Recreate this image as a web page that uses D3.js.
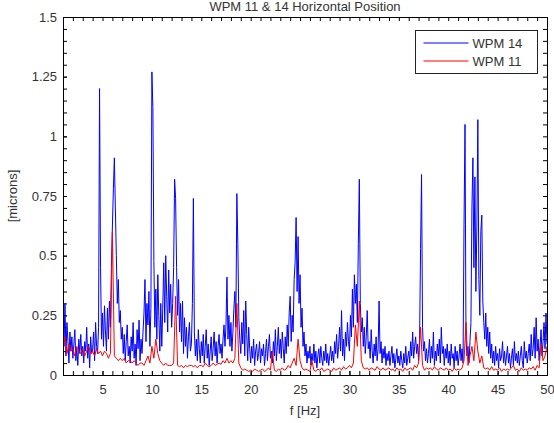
<!DOCTYPE html>
<html>
<head>
<meta charset="utf-8">
<script src="https://cdn.jsdelivr.net/npm/d3@7"></script>
<style>
	html, body { margin: 0; padding: 0; background: #fff; }
	svg { display: block; font-family: 'Liberation Sans', Arial, sans-serif; }
</style>
</head>
<body>
<div class="wpm__graph"></div>
<script>
/* spectrum bins: f = fStart + i * step */
const fStart = 1;
const step14 = 0.1;
const step11 = 0.2;

const wpm14 = [
	0.37, 0.12, 0.30, 0.08, 0.22, 0.14, 0.05, 0.18, 0.10, 0.16,
	0.07, 0.13, 0.19, 0.06, 0.11, 0.04, 0.15, 0.09, 0.17, 0.08,
	0.12, 0.05, 0.14, 0.10, 0.20, 0.07, 0.13, 0.03, 0.16, 0.09,
	0.11, 0.18, 0.06, 0.22, 0.12, 0.09, 0.20, 1.20, 0.45, 0.15,
	0.26, 0.12, 0.29, 0.18, 0.10, 0.28, 0.15, 0.31, 0.20, 0.45,
	0.62, 0.78, 0.91, 0.70, 0.50, 0.30, 0.40, 0.22, 0.27, 0.15,
	0.20, 0.09, 0.17, 0.06, 0.14, 0.21, 0.08, 0.12, 0.05, 0.16,
	0.10, 0.22, 0.07, 0.13, 0.04, 0.19, 0.11, 0.23, 0.06, 0.15,
	0.09, 0.18, 0.26, 0.40, 0.14, 0.30, 0.21, 0.35, 0.12, 0.28,
	1.27, 1.12, 0.48, 0.20, 0.36, 0.15, 0.42, 0.25, 0.10, 0.30,
	0.12, 0.28, 0.47, 0.22, 0.50, 0.33, 0.18, 0.44, 0.26, 0.38,
	0.20, 0.30, 0.45, 0.82, 0.74, 0.45, 0.25, 0.40, 0.18, 0.30,
	0.14, 0.31, 0.09, 0.24, 0.12, 0.20, 0.07, 0.16, 0.22, 0.10,
	0.13, 0.30, 0.74, 0.18, 0.08, 0.15, 0.06, 0.19, 0.11, 0.05,
	0.14, 0.08, 0.17, 0.05, 0.12, 0.19, 0.07, 0.13, 0.04, 0.10,
	0.16, 0.06, 0.11, 0.18, 0.08, 0.14, 0.05, 0.12, 0.17, 0.09,
	0.13, 0.07, 0.15, 0.21, 0.12, 0.21, 0.41, 0.15, 0.25, 0.12,
	0.22, 0.10, 0.18, 0.28, 0.35, 0.20, 0.76, 0.55, 0.24, 0.15,
	0.09, 0.22, 0.13, 0.27, 0.08, 0.31, 0.17, 0.06, 0.20, 0.11,
	0.05, 0.12, 0.07, 0.15, 0.04, 0.10, 0.13, 0.06, 0.09, 0.14,
	0.05, 0.11, 0.08, 0.13, 0.04, 0.09, 0.15, 0.06, 0.12, 0.17,
	0.07, 0.10, 0.05, 0.14, 0.08, 0.19, 0.06, 0.12, 0.20, 0.09,
	0.15, 0.07, 0.18, 0.11, 0.05, 0.16, 0.09, 0.21, 0.12, 0.26,
	0.33, 0.14, 0.25, 0.18, 0.40, 0.47, 0.66, 0.35, 0.58, 0.30,
	0.42, 0.20, 0.28, 0.12, 0.18, 0.08, 0.13, 0.05, 0.10, 0.07,
	0.12, 0.04, 0.09, 0.06, 0.13, 0.05, 0.10, 0.03, 0.08, 0.11,
	0.05, 0.12, 0.07, 0.04, 0.10, 0.06, 0.13, 0.05, 0.09, 0.04,
	0.08, 0.12, 0.06, 0.10, 0.05, 0.14, 0.09, 0.17, 0.07, 0.12,
	0.20, 0.10, 0.27, 0.08, 0.15, 0.06, 0.18, 0.12, 0.22, 0.14,
	0.10, 0.25, 0.16, 0.36, 0.20, 0.42, 0.30, 0.38, 0.22, 0.55,
	0.82, 0.30, 0.18, 0.24, 0.12, 0.20, 0.09, 0.16, 0.27, 0.11,
	0.14, 0.07, 0.19, 0.10, 0.05, 0.13, 0.08, 0.16, 0.06, 0.11,
	0.31, 0.09, 0.14, 0.05, 0.11, 0.07, 0.12, 0.04, 0.09, 0.06,
	0.10, 0.04, 0.08, 0.12, 0.05, 0.09, 0.03, 0.07, 0.11, 0.05,
	0.08, 0.04, 0.10, 0.06, 0.03, 0.09, 0.05, 0.12, 0.04, 0.07,
	0.10, 0.05, 0.14, 0.08, 0.18, 0.07, 0.12, 0.16, 0.09, 0.13,
	0.06, 0.15, 0.53, 0.84, 0.20, 0.10, 0.14, 0.06, 0.11, 0.05,
	0.09, 0.15, 0.05, 0.12, 0.07, 0.18, 0.04, 0.10, 0.06, 0.13,
	0.08, 0.15, 0.05, 0.20, 0.09, 0.12, 0.04, 0.11, 0.07, 0.13,
	0.05, 0.10, 0.04, 0.13, 0.07, 0.09, 0.03, 0.12, 0.06, 0.10,
	0.04, 0.08, 0.13, 0.06, 0.11, 0.05, 0.63, 1.05, 0.15, 0.08,
	0.12, 0.05, 0.14, 0.22, 0.70, 0.91, 0.45, 0.83, 0.35, 0.62,
	1.07, 0.40, 0.25, 0.60, 0.67, 0.31, 0.22, 0.15, 0.26, 0.12,
	0.20, 0.09, 0.18, 0.07, 0.13, 0.05, 0.10, 0.04, 0.12, 0.06,
	0.09, 0.03, 0.11, 0.06, 0.08, 0.14, 0.05, 0.10, 0.04, 0.08,
	0.12, 0.05, 0.09, 0.03, 0.07, 0.11, 0.04, 0.14, 0.06, 0.09,
	0.05, 0.10, 0.04, 0.08, 0.12, 0.06, 0.03, 0.14, 0.07, 0.10,
	0.05, 0.09, 0.13, 0.06, 0.17, 0.08, 0.11, 0.20, 0.07, 0.24,
	0.10, 0.15, 0.06, 0.12, 0.19, 0.08, 0.14, 0.22, 0.11, 0.26,
	0.13
];

const wpm11 = [
	0.12, 0.16, 0.09, 0.13, 0.10,
	0.11, 0.08, 0.12, 0.10, 0.09,
	0.11, 0.08, 0.10, 0.12, 0.09,
	0.10, 0.08, 0.11, 0.09, 0.10,
	0.08, 0.10, 0.09, 0.07, 0.09,
	0.60, 0.08, 0.07, 0.06, 0.07,
	0.06, 0.07, 0.05, 0.06, 0.06,
	0.05, 0.06, 0.05, 0.04, 0.05,
	0.05, 0.04, 0.06, 0.08, 0.05,
	0.12, 0.07, 0.15, 0.09, 0.06,
	0.05, 0.04, 0.05, 0.04, 0.04,
	0.04, 0.05, 0.33, 0.04, 0.035,
	0.04, 0.03, 0.04, 0.035, 0.04,
	0.04, 0.035, 0.04, 0.03, 0.04,
	0.04, 0.035, 0.05, 0.04, 0.035,
	0.04, 0.05, 0.04, 0.045, 0.05,
	0.045, 0.06, 0.05, 0.07, 0.05,
	0.06, 0.05, 0.07, 0.30, 0.05,
	0.03, 0.02, 0.025, 0.02, 0.015,
	0.02, 0.015, 0.025, 0.02, 0.015,
	0.02, 0.025, 0.015, 0.02, 0.03,
	0.02, 0.10, 0.02, 0.015, 0.025,
	0.02, 0.03, 0.02, 0.025, 0.04,
	0.03, 0.05, 0.07, 0.04, 0.15,
	0.06, 0.03, 0.02, 0.025, 0.02,
	0.015, 0.06, 0.02, 0.015, 0.025,
	0.02, 0.03, 0.015, 0.02, 0.025,
	0.02, 0.015, 0.03, 0.02, 0.025,
	0.03, 0.02, 0.035, 0.025, 0.03,
	0.04, 0.03, 0.05, 0.21, 0.12,
	0.31, 0.06, 0.03, 0.025, 0.03,
	0.02, 0.03, 0.025, 0.02, 0.035,
	0.025, 0.02, 0.03, 0.02, 0.025,
	0.03, 0.02, 0.025, 0.015, 0.03,
	0.02, 0.025, 0.015, 0.03, 0.02,
	0.025, 0.03, 0.02, 0.04, 0.03,
	0.05, 0.20, 0.04, 0.02, 0.03,
	0.025, 0.03, 0.02, 0.035, 0.025,
	0.02, 0.03, 0.025, 0.02, 0.03,
	0.02, 0.025, 0.015, 0.03, 0.02,
	0.025, 0.02, 0.03, 0.06, 0.22,
	0.04, 0.08, 0.12, 0.06, 0.18,
	0.10, 0.05, 0.08, 0.03, 0.025,
	0.03, 0.02, 0.035, 0.02, 0.025,
	0.02, 0.03, 0.015, 0.025, 0.02,
	0.025, 0.02, 0.03, 0.04, 0.02,
	0.025, 0.015, 0.03, 0.02, 0.025,
	0.02, 0.03, 0.025, 0.035, 0.02,
	0.04, 0.03, 0.13, 0.06, 0.08,
	0.12
];

const xTicks = [5, 10, 15, 20, 25, 30, 35, 40, 45, 50];
const yTicks = [0, 0.25, 0.5, 0.75, 1, 1.25, 1.5];
const seriesNames = ['WPM 14', 'WPM 11'];
const seriesColors = ['#0000ff', '#ff0000'];

const spectrumGraph = {
	vars() {
		this.width = 554;
		this.height = 423;
		this.margin = {top: 17, right: 7, bottom: 48, left: 63};
		this.graphWidth = this.width - this.margin.left - this.margin.right;
		this.graphHeight = this.height - this.margin.top - this.margin.bottom;
		this.xScale = d3.scaleLinear().domain([1, 50]).range([0, this.graphWidth]);
		this.yScale = d3.scaleLinear().domain([0, 1.5]).range([this.graphHeight, 0]);
	},
	makeSvg() {
		const svg = d3.select('.wpm__graph')
			.append('svg')
			.attr('width', this.width)
			.attr('height', this.height);
		svg.append('rect').attr('width', this.width).attr('height', this.height).attr('fill', '#fff');
		this.svg = svg;
		this.g = svg.append('g')
			.attr('transform', `translate(${this.margin.left}, ${this.margin.top})`);
		this.g.append('clipPath').attr('id', 'plot-clip')
			.append('rect')
			.attr('width', this.graphWidth)
			.attr('height', this.graphHeight);
	},
	drawAxes() {
		const minorX = d3.range(1, 51, 1);
		const minorY = d3.range(0, 1.5001, 0.05);

		/* ticks point inwards on all four sides, matlab style */
		const styleAxis = (sel, labels) => {
			sel.select('.domain').remove();
			sel.selectAll('line').attr('stroke', '#000');
			sel.selectAll('text')
				.attr('fill', '#333')
				.style('font-size', '13px');
			if(!labels) sel.selectAll('text').remove();
		};

		const bottom = this.g.append('g').attr('transform', `translate(0, ${this.graphHeight})`);
		bottom.append('g').call(d3.axisBottom(this.xScale).tickValues(minorX).tickSize(-4).tickFormat(''))
			.call(s => styleAxis(s, false));
		bottom.append('g').call(d3.axisBottom(this.xScale).tickValues(xTicks).tickSize(-4).tickPadding(10).tickFormat(d3.format('d')))
			.call(s => styleAxis(s, true));

		this.g.append('g').call(d3.axisTop(this.xScale).tickValues(minorX).tickSize(-4).tickFormat(''))
			.call(s => styleAxis(s, false));

		this.g.append('g').call(d3.axisLeft(this.yScale).tickValues(minorY).tickSize(-4).tickFormat(''))
			.call(s => styleAxis(s, false));
		this.g.append('g').call(d3.axisLeft(this.yScale).tickValues(yTicks).tickSize(-4).tickPadding(6).tickFormat(d => String(d)))
			.call(s => styleAxis(s, true));

		this.g.append('g').attr('transform', `translate(${this.graphWidth}, 0)`)
			.call(d3.axisRight(this.yScale).tickValues(minorY).tickSize(-4).tickFormat(''))
			.call(s => styleAxis(s, false));
	},
	drawLines() {
		const series = [
			{values: wpm14, step: step14, color: seriesColors[0]},
			{values: wpm11, step: step11, color: seriesColors[1]}
		];
		const line = d3.line()
			.x(d => this.xScale(d.f))
			.y(d => this.yScale(d.v));

		series.forEach(s => {
			const points = s.values.map((v, i) => ({f: fStart + i * s.step, v: v}));
			this.g.append('path')
				.datum(points)
				.attr('clip-path', 'url(#plot-clip)')
				.attr('fill', 'none')
				.attr('stroke', s.color)
				.attr('stroke-width', 1)
				.attr('d', line);
		});

		/* box on top of the lines */
		this.g.append('rect')
			.attr('x', 0.5).attr('y', 0.5)
			.attr('width', this.graphWidth).attr('height', this.graphHeight)
			.attr('fill', 'none')
			.attr('stroke', '#000');
	},
	drawLegend() {
		const legend = this.svg.append('g').attr('transform', 'translate(415.5, 30.5)');
		legend.append('rect')
			.attr('width', 122).attr('height', 43)
			.attr('fill', '#fff').attr('stroke', '#222');
		seriesNames.forEach((name, i) => {
			const y = 12.5 + i * 18;
			legend.append('line')
				.attr('x1', 8).attr('x2', 53)
				.attr('y1', y).attr('y2', y)
				.attr('stroke', seriesColors[i]);
			legend.append('text')
				.attr('x', 57).attr('y', y + 4.5)
				.attr('fill', '#333')
				.style('font-size', '13px')
				.text(name);
		});
	},
	drawLabels() {
		this.svg.append('text')
			.attr('x', this.margin.left + this.graphWidth / 2).attr('y', 11)
			.attr('text-anchor', 'middle')
			.attr('fill', '#333')
			.style('font-size', '13px')
			.text('WPM 11 & 14 Horizontal Position');
		this.svg.append('text')
			.attr('x', this.margin.left + this.graphWidth / 2).attr('y', 415)
			.attr('text-anchor', 'middle')
			.attr('fill', '#333')
			.style('font-size', '13px')
			.text('f [Hz]');
		this.svg.append('text')
			.attr('transform', `translate(17, ${this.margin.top + this.graphHeight / 2}) rotate(-90)`)
			.attr('text-anchor', 'middle')
			.attr('fill', '#333')
			.style('font-size', '13px')
			.text('[microns]');
	},
	init() {
		this.vars();
		this.makeSvg();
		this.drawAxes();
		this.drawLines();
		this.drawLegend();
		this.drawLabels();
	}
};

spectrumGraph.init();
</script>
</body>
</html>
